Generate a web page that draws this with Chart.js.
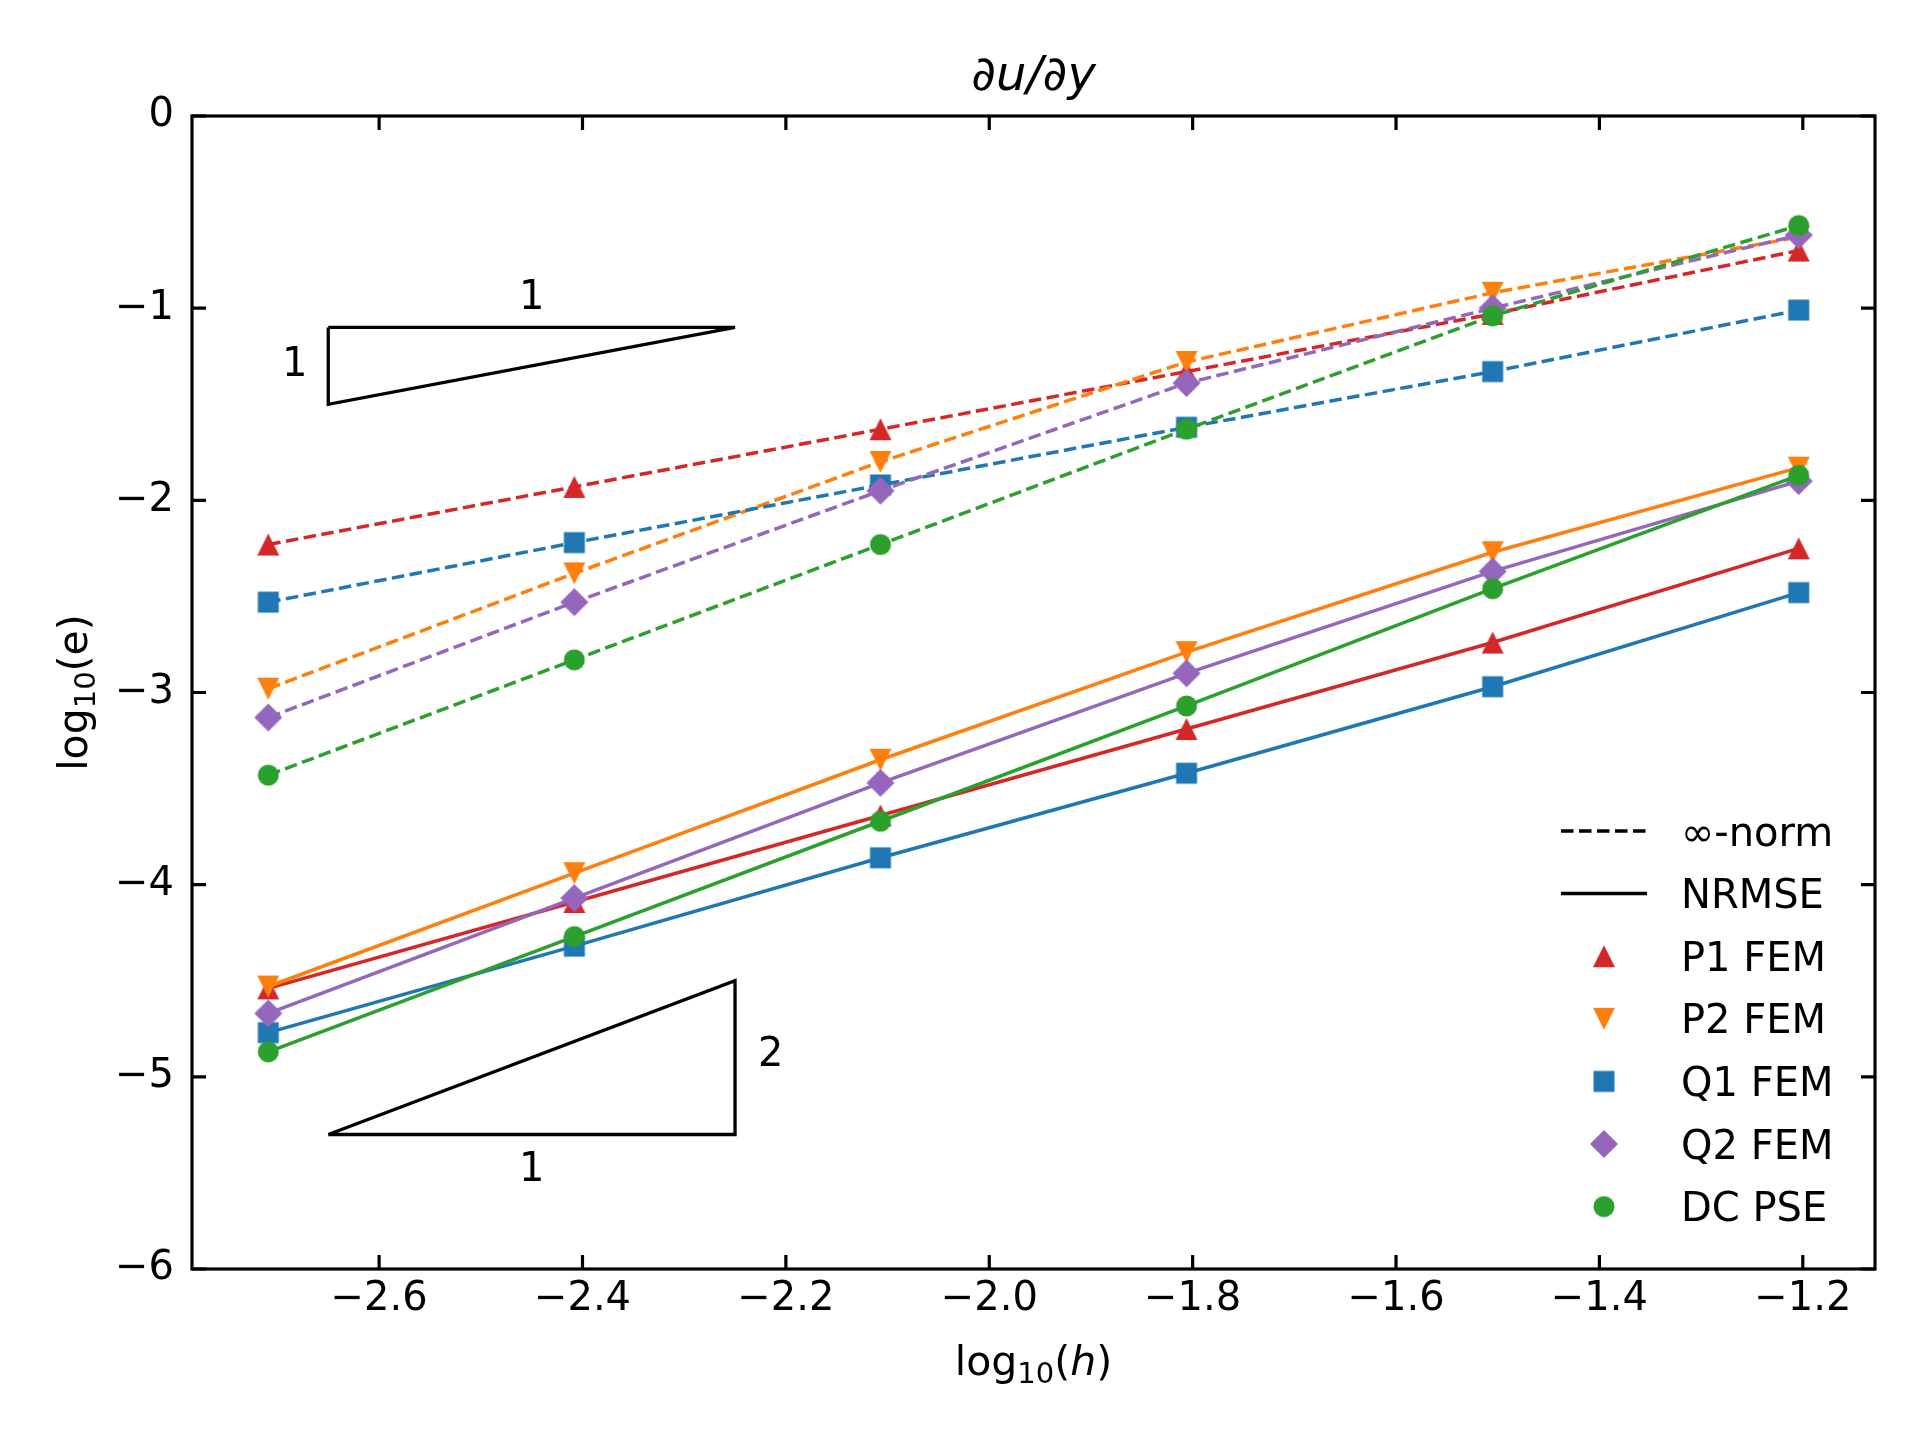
<!DOCTYPE html>
<html>
<head>
<meta charset="utf-8">
<script src="https://cdn.jsdelivr.net/npm/chart.js@4.4.1/dist/chart.umd.min.js"></script>
<style>
  html, body { margin: 0; padding: 0; background: #fff; }
  #wrap { width: 1920px; height: 1440px; }
</style>
</head>
<body>
<div id="wrap"><canvas id="errChart" width="1920" height="1440"></canvas></div>
<script>
// log10(h) for h = 1/16 ... 1/512
const logH = [-2.709, -2.408, -2.107, -1.806, -1.505, -1.204];

// infinity-norm errors (dashed lines)
const p1Inf = [-2.23, -1.93, -1.63, -1.33, -1.03, -0.70];
const p2Inf = [-2.98, -2.38, -1.80, -1.28, -0.92, -0.63];
const q1Inf = [-2.53, -2.22, -1.92, -1.62, -1.33, -1.01];
const q2Inf = [-3.13, -2.53, -1.95, -1.39, -1.00, -0.62];
const dcInf = [-3.43, -2.83, -2.23, -1.63, -1.04, -0.57];

// NRMSE errors (solid lines)
const p1Rms = [-4.54, -4.09, -3.64, -3.19, -2.74, -2.25];
const p2Rms = [-4.53, -3.94, -3.35, -2.79, -2.27, -1.83];
const q1Rms = [-4.77, -4.32, -3.86, -3.42, -2.97, -2.48];
const q2Rms = [-4.67, -4.07, -3.47, -2.90, -2.37, -1.90];
const dcRms = [-4.87, -4.27, -3.67, -3.07, -2.46, -1.87];

const methodNames = ['P1 FEM', 'P2 FEM', 'Q1 FEM', 'Q2 FEM', 'DC PSE'];
const normNames = ['\u221e-norm', 'NRMSE'];

const xTickValues = [-2.6, -2.4, -2.2, -2.0, -1.8, -1.6, -1.4, -1.2];
const yTickValues = [-6, -5, -4, -3, -2, -1, 0];

// slope guide triangles (closed paths)
const slope1X = [-2.65, -2.25, -2.65, -2.65];
const slope1Y = [-1.1, -1.1, -1.5, -1.1];
const slope2X = [-2.65, -2.25, -2.25, -2.65];
const slope2Y = [-5.3, -5.3, -4.5, -5.3];

// slope labels
const guideText = ['1', '1', '2', '1'];
const guideX = [-2.45, -2.683, -2.215, -2.45];
const guideY = [-0.931, -1.28, -4.87, -5.467];

const FONT = '"DejaVu Sans", "Liberation Sans", sans-serif';
const methodColors = ['#d62728', '#ff7f0e', '#1f77b4', '#9467bd', '#2ca02c'];
const methodShapes = ['triUp', 'triDown', 'square', 'diamond', 'circle'];
const infSeries = [p1Inf, p2Inf, q1Inf, q2Inf, dcInf];
const rmsSeries = [p1Rms, p2Rms, q1Rms, q2Rms, dcRms];

// matplotlib-like marker sprites
function makeMarker(shape, color) {
    const c = document.createElement('canvas');
    c.width = 32; c.height = 32;
    const g = c.getContext('2d');
    g.fillStyle = color;
    g.beginPath();
    if (shape === 'triUp') {
        g.moveTo(16, 5); g.lineTo(27, 27); g.lineTo(5, 27);
    } else if (shape === 'triDown') {
        g.moveTo(16, 27); g.lineTo(27, 5); g.lineTo(5, 5);
    } else if (shape === 'square') {
        g.rect(5.5, 5.5, 21, 21);
    } else if (shape === 'diamond') {
        g.moveTo(16, 2); g.lineTo(30, 16); g.lineTo(16, 30); g.lineTo(2, 16);
    } else {
        g.arc(16, 16, 10.5, 0, Math.PI * 2);
    }
    g.closePath();
    g.fill();
    return c;
}
const markers = methodShapes.map((s, i) => makeMarker(s, methodColors[i]));

function toPoints(xs, ys) {
    return xs.map((x, i) => ({ x: x, y: ys[i] }));
}

// build datasets: later in the list is drawn on top
const datasets = [];
for (let i = 0; i < methodNames.length; i++) {
    datasets.push({
        label: methodNames[i] + ' ' + normNames[0],
        data: toPoints(logH, infSeries[i]),
        borderColor: methodColors[i],
        borderWidth: 3.5,
        borderDash: [12.5, 5.5],
        pointStyle: markers[i],
        pointRadius: 10
    });
    datasets.push({
        label: methodNames[i] + ' ' + normNames[1],
        data: toPoints(logH, rmsSeries[i]),
        borderColor: methodColors[i],
        borderWidth: 3.5,
        pointStyle: markers[i],
        pointRadius: 10
    });
}
datasets.push({
    label: 'slope 1',
    data: toPoints(slope1X, slope1Y),
    borderColor: '#000',
    borderWidth: 3.3,
    pointRadius: 0
});
datasets.push({
    label: 'slope 2',
    data: toPoints(slope2X, slope2Y),
    borderColor: '#000',
    borderWidth: 3.3,
    pointRadius: 0
});
datasets.forEach((d, i) => {
    d.order = datasets.length - i;
    d.fill = false;
    d.tension = 0;
    d.borderJoinStyle = 'miter';
    d.borderCapStyle = 'butt';
});

function drawLogLabel(ctx, cx, baseline, inner, rotated) {
    const parts = [
        { t: 'log', f: '41px ' + FONT, dy: 0 },
        { t: '10', f: '29px ' + FONT, dy: 8 },
        { t: '(', f: '41px ' + FONT, dy: 0 },
        { t: inner.text, f: (inner.italic ? 'italic ' : '') + '41px ' + FONT, dy: 0 },
        { t: ')', f: '41px ' + FONT, dy: 0 }
    ];
    let total = 0;
    parts.forEach(p => { ctx.font = p.f; p.w = ctx.measureText(p.t).width; total += p.w; });
    ctx.save();
    ctx.translate(cx, baseline);
    if (rotated) ctx.rotate(-Math.PI / 2);
    ctx.fillStyle = '#000';
    ctx.textAlign = 'left';
    ctx.textBaseline = 'alphabetic';
    let x = -total / 2;
    parts.forEach(p => { ctx.font = p.f; ctx.fillText(p.t, x, p.dy); x += p.w; });
    ctx.restore();
}

const decorPlugin = {
    id: 'decor',
    afterDatasetsDraw(chart) {
        const ctx = chart.ctx;
        const a = chart.chartArea;
        const xs = chart.scales.x, ys = chart.scales.y;
        ctx.save();
        // frame
        ctx.strokeStyle = '#000';
        ctx.lineWidth = 3.2;
        ctx.strokeRect(a.left, a.top, a.right - a.left, a.bottom - a.top);
        // inward ticks on all sides
        const tl = 14;
        ctx.beginPath();
        xTickValues.forEach(v => {
            const px = xs.getPixelForValue(v);
            ctx.moveTo(px, a.bottom); ctx.lineTo(px, a.bottom - tl);
            ctx.moveTo(px, a.top); ctx.lineTo(px, a.top + tl);
        });
        yTickValues.forEach(v => {
            const py = ys.getPixelForValue(v);
            ctx.moveTo(a.left, py); ctx.lineTo(a.left + tl, py);
            ctx.moveTo(a.right, py); ctx.lineTo(a.right - tl, py);
        });
        ctx.stroke();
        // slope labels
        ctx.fillStyle = '#000';
        ctx.font = '40px ' + FONT;
        ctx.textAlign = 'center';
        ctx.textBaseline = 'alphabetic';
        guideText.forEach((t, i) => {
            ctx.fillText(t, xs.getPixelForValue(guideX[i]), ys.getPixelForValue(guideY[i]) + 14.5);
        });
        ctx.restore();
    },
    afterDraw(chart) {
        const ctx = chart.ctx;
        const a = chart.chartArea;
        const midX = (a.left + a.right) / 2;
        const midY = (a.top + a.bottom) / 2;
        ctx.save();
        // title
        ctx.fillStyle = '#000';
        ctx.font = 'italic 48px ' + FONT;
        ctx.textAlign = 'center';
        ctx.textBaseline = 'alphabetic';
        ctx.fillText('\u2202u/\u2202y', midX, 90);
        // axis labels
        drawLogLabel(ctx, midX, 1375, { text: 'h', italic: true }, false);
        drawLogLabel(ctx, 87, midY, { text: 'e', italic: false }, true);

        // legend
        const rowTop = 831, rowGap = 62.6;
        const lineX0 = 1561, lineX1 = 1647, markX = 1604, textX = 1681;
        ctx.font = '40px ' + FONT;
        ctx.textAlign = 'left';
        ctx.strokeStyle = '#000';
        ctx.lineWidth = 3.5;
        const rows = normNames.concat(methodNames);
        rows.forEach((name, i) => {
            const y = rowTop + i * rowGap;
            if (i < 2) {
                ctx.beginPath();
                ctx.setLineDash(i === 0 ? [12.5, 5.5] : []);
                ctx.moveTo(lineX0, y); ctx.lineTo(lineX1, y);
                ctx.stroke();
                ctx.setLineDash([]);
            } else {
                const m = markers[i - 2];
                ctx.drawImage(m, markX - m.width / 2, y - m.height / 2);
            }
            ctx.fillText(name, textX, y + 14.5);
        });
        ctx.restore();
    }
};

const tickFont = { family: FONT, size: 40 };
const chart = new Chart(document.getElementById('errChart').getContext('2d'), {
    type: 'line',
    data: { datasets: datasets },
    options: {
        responsive: false,
        animation: false,
        devicePixelRatio: 1,
        layout: { padding: { left: 0, right: 45, top: 116, bottom: 0 } },
        plugins: {
            legend: { display: false },
            tooltip: { enabled: false },
            title: { display: false }
        },
        scales: {
            x: {
                type: 'linear',
                min: -2.784,
                max: -1.129,
                afterBuildTicks: s => { s.ticks = xTickValues.map(v => ({ value: v })); },
                afterFit: s => { s.height = 171; },
                grid: { display: false, drawTicks: false },
                border: { display: false },
                ticks: {
                    font: tickFont,
                    color: '#000',
                    padding: 7,
                    maxRotation: 0,
                    autoSkip: false,
                    callback: v => '\u2212' + Math.abs(v).toFixed(1)
                }
            },
            y: {
                type: 'linear',
                min: -6,
                max: 0,
                afterBuildTicks: s => { s.ticks = yTickValues.map(v => ({ value: v })); },
                afterFit: s => { s.width = 192; },
                grid: { display: false, drawTicks: false },
                border: { display: false },
                ticks: {
                    font: tickFont,
                    color: '#000',
                    padding: 18,
                    autoSkip: false,
                    callback: v => v === 0 ? '0' : '\u2212' + Math.abs(v)
                }
            }
        }
    },
    plugins: [decorPlugin]
});
</script>
</body>
</html>
